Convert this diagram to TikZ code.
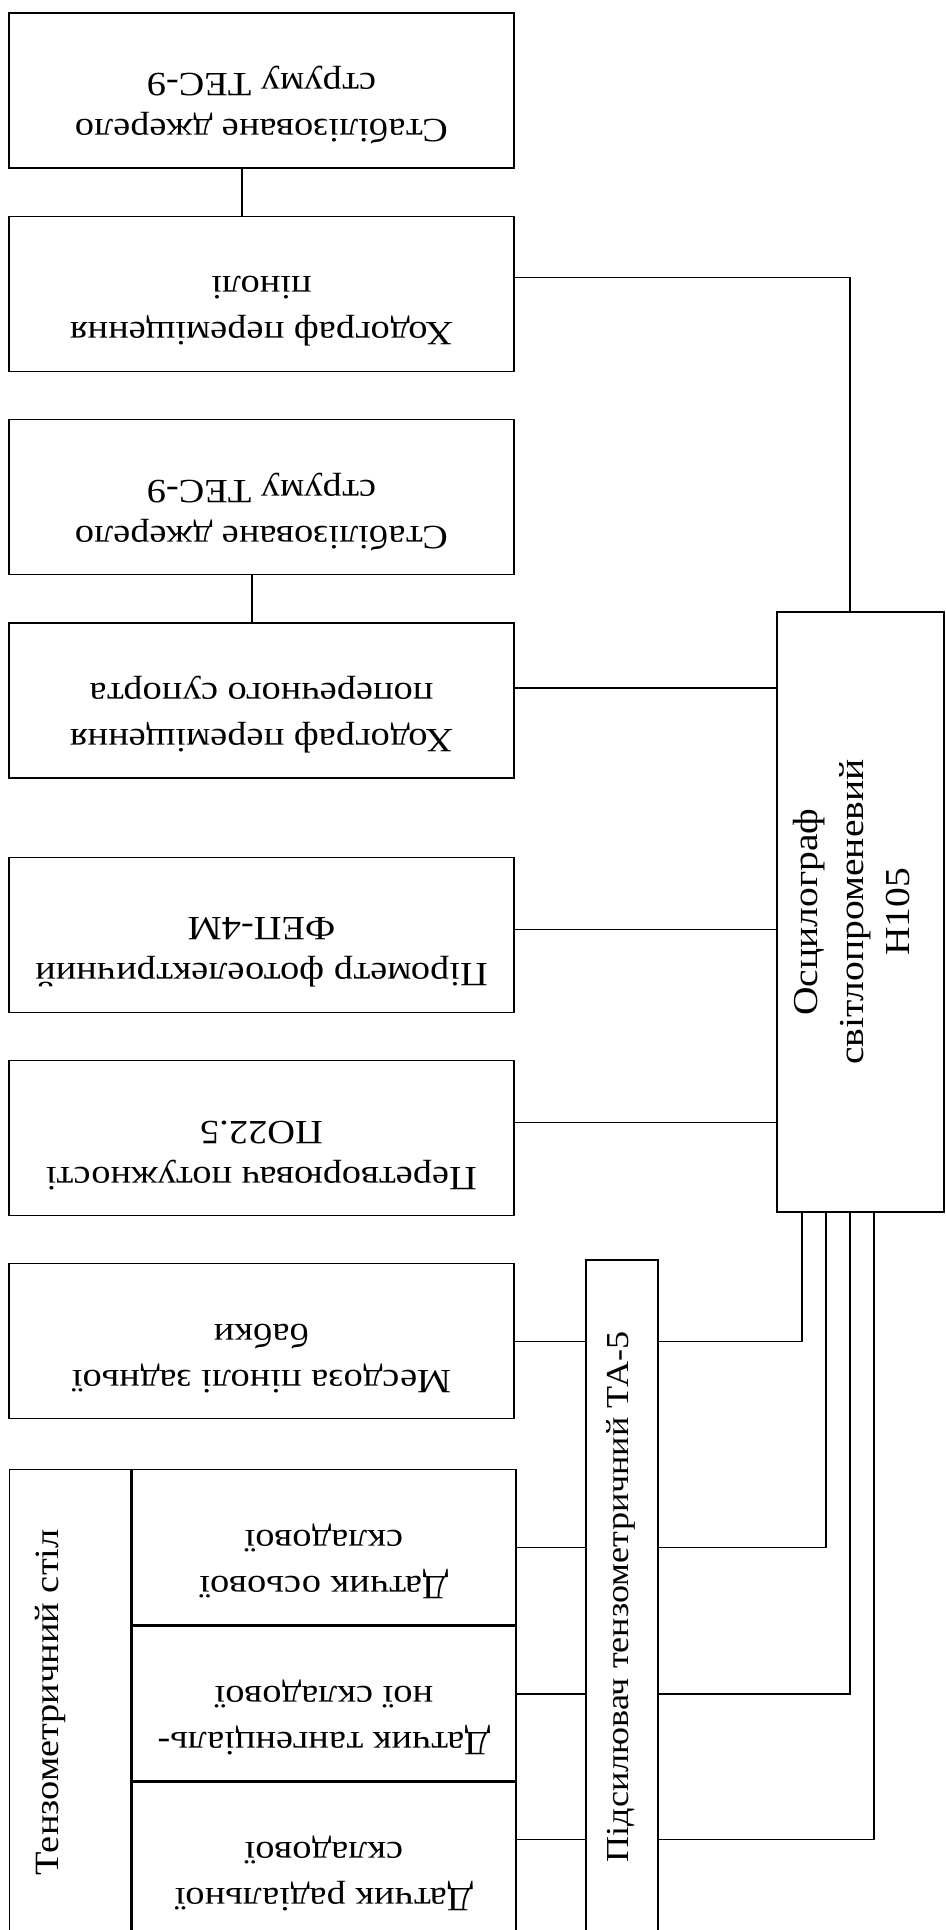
\documentclass[tikz,border=0pt]{standalone}
\usepackage{fontspec}
\setmainfont{Liberation Serif}[FakeStretch=1.13]
\usepackage{graphicx}
\usetikzlibrary{positioning}
\newcommand{\nizom}[1]{\raisebox{-9pt}[0pt][0pt]{\rotatebox{180}{\begin{tabular}{@{}c@{}}#1\end{tabular}}}}
\newcommand{\vbik}[1]{\rotatebox{90}{\begin{tabular}{@{}c@{}}#1\end{tabular}}}

\begin{document}
\begin{tikzpicture}[x=1pt, y=-1pt, node distance=47pt,
    every node/.style={font=\fontsize{34}{46}\selectfont},
    blok/.style={draw, line width=1.3pt, minimum width=505pt, minimum height=155pt, inner sep=0pt},
    datchyk/.style={draw, line width=1.3pt, minimum width=384pt, minimum height=155pt, inner sep=0pt},
    zv/.style={line width=1.3pt}]
    \useasboundingbox (0,0) rectangle (945,1930);
    \clip (0,0) rectangle (945,1930);
    \node[blok] (dzh1) at (261.5,90.5) {\nizom{Стабілізоване джерело\\струму ТЕС-9}};
    \node[blok, below=of dzh1] (hod1) {\nizom{Ходограф переміщення\\пінолі}};
    \node[blok, below=of hod1] (dzh2) {\nizom{Стабілізоване джерело\\струму ТЕС-9}};
    \node[blok, below=of dzh2] (hod2) {\nizom{Ходограф переміщення\\поперечного супорта}};
    \node[blok, below=78pt of hod2] (pir) {\nizom{Пірометр фотоелектричний\\ФЕП-4М}};
    \node[blok, below=of pir] (pertv) {\nizom{Перетворювач потужності\\ПО22.5}};
    \node[blok, below=of pertv] (mesd) {\nizom{Месдоза пінолі задньої\\бабки}};
    \node[draw, line width=1.3pt, minimum width=121pt, minimum height=465pt, inner sep=0pt, anchor=north west] (stil) at (9,1469) {\vbik{Тензометричний стіл}\kern41pt};
    \node[datchyk, anchor=north west] (dos) at (stil.north east) {\nizom{Датчик осьової\\складової}};
    \node[datchyk, below=0pt of dos] (dtan) {\nizom{Датчик тангенціаль-\\ної складової}};
    \node[datchyk, below=0pt of dtan] (drad) {\nizom{Датчик радіальної\\складової}};
    \node[draw, line width=1.3pt, minimum width=167pt, minimum height=600pt, inner sep=0pt, font=\fontsize{35}{46}\selectfont] (osc) at (860.5,912) {\vbik{Осцилограф\\світлопроменевий\\Н105}\kern12pt};
    \node[draw, line width=1.3pt, minimum width=72pt, minimum height=674pt, inner sep=0pt, font=\fontsize{32}{46}\selectfont] (pids) at (622,1597) {\vbik{Підсилювач тензометричний ТА-5}\kern5pt};
    \draw[zv] ([xshift=-19.5pt]dzh1.south) -- ([xshift=-19.5pt]hod1.north);
    \draw[zv] ([xshift=-9.5pt]dzh2.south) -- ([xshift=-9.5pt]hod2.north);
    \draw[zv] ([yshift=16.5pt]hod1.east) -| ([xshift=-10.5pt]osc.north);
    \draw[zv] ([yshift=12.5pt]hod2.east) -- ([yshift=12.5pt]hod2.east -| osc.west);
    \draw[zv] ([yshift=5.5pt]pir.east) -- ([yshift=5.5pt]pir.east -| osc.west);
    \draw[zv] ([yshift=15.5pt]pertv.east) -- ([yshift=15.5pt]pertv.east -| osc.west);
    \draw[zv] (mesd.east) -- (mesd.east -| pids.west);
    \draw[zv] (mesd.east -| pids.east) -| ([xshift=-58.5pt]osc.south);
    \draw[zv] (dos.east) -- (dos.east -| pids.west);
    \draw[zv] (dos.east -| pids.east) -| ([xshift=-34.5pt]osc.south);
    \draw[zv] ([yshift=9.5pt]dtan.east) -- ([yshift=9.5pt]dtan.east -| pids.west);
    \draw[zv] ([yshift=9.5pt]dtan.east -| pids.east) -| ([xshift=-10.5pt]osc.south);
    \draw[zv] ([yshift=20.5pt]drad.east) -- ([yshift=20.5pt]drad.east -| pids.west);
    \draw[zv] ([yshift=20.5pt]drad.east -| pids.east) -| ([xshift=13.5pt]osc.south);
\end{tikzpicture}
\end{document}
